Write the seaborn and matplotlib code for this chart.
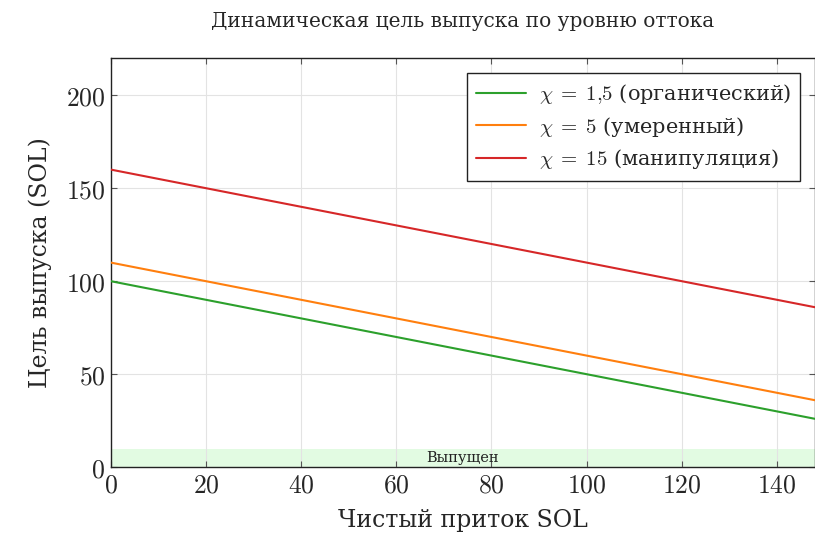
import matplotlib
matplotlib.use("Agg")
import matplotlib.pyplot as plt
import seaborn as sns
import pandas as pd
from matplotlib.ticker import FuncFormatter

# Data
x_vals = [0, 148]
green_vals = [100, 26]
orange_vals = [110, 36]
red_vals = [160, 86]
labels = [r"$\chi\;=\;1{,}5$ (органический)",
          r"$\chi\;=\;5$ (умеренный)",
          r"$\chi\;=\;15$ (манипуляция)"]
colors = ["#2ca02c", "#ff7f0e", "#d62728"]
band_range = [0, 10]
band_label = "Выпущен"
title = "Динамическая цель выпуска по уровню оттока"
xlabel = "Чистый приток SOL"
ylabel = "Цель выпуска (SOL)"
xticks = [0, 20, 40, 60, 80, 100, 120, 140]
yticks = [0, 50, 100, 150, 200]

sns.set_theme(style="white")
plt.rcParams["font.family"] = ["DejaVu Serif"]
plt.rcParams["mathtext.fontset"] = "cm"

rows = []
for lab, vals in zip(labels, [green_vals, orange_vals, red_vals]):
    for xv, yv in zip(x_vals, vals):
        rows.append({"x": xv, "y": yv, "series": lab})
df = pd.DataFrame(rows)

fig = plt.figure(figsize=(8.15, 5.37), dpi=100)
ax = fig.add_axes([0.136, 0.130, 0.864, 0.762])

ax.axhspan(band_range[0], band_range[1], color="#e2fbe2", zorder=0, lw=0)
ax.text(sum(x_vals) / 2, (band_range[0] + band_range[1]) / 2, band_label,
        ha="center", va="center", fontsize=10.5, color="#222222", zorder=1)

sns.lineplot(data=df, x="x", y="y", hue="series", palette=colors, ax=ax,
             linewidth=1.5, zorder=3)

ax.set_xlim(0, 148)
ax.set_ylim(0, 220)
ax.set_xticks(xticks)
ax.set_yticks(yticks)
fmt = FuncFormatter(lambda v, p: f"${v:g}$")
ax.xaxis.set_major_formatter(fmt)
ax.yaxis.set_major_formatter(fmt)
ax.tick_params(axis="both", labelsize=18.5, direction="in", length=4,
               width=0.8, color="#555555", top=True, right=True,
               bottom=True, left=True, pad=4)
ax.grid(True, color="#e3e3e3", linewidth=0.8)
ax.set_axisbelow(True)
for s in ax.spines.values():
    s.set_color("#222222")
    s.set_linewidth(1.0)

ax.set_xlabel(xlabel, fontsize=17, labelpad=8)
ax.set_ylabel(ylabel, fontsize=17, labelpad=10)
ax.set_title(title, fontsize=14.5, pad=22)

leg = ax.legend(loc="upper right", fontsize=15, frameon=True, fancybox=False,
                edgecolor="#222222", framealpha=1, borderpad=0.45,
                handlelength=2.4, labelspacing=0.42, borderaxespad=0.7,
                handletextpad=0.6)
leg.get_frame().set_linewidth(1.0)

fig.savefig("out.png", dpi=100)
